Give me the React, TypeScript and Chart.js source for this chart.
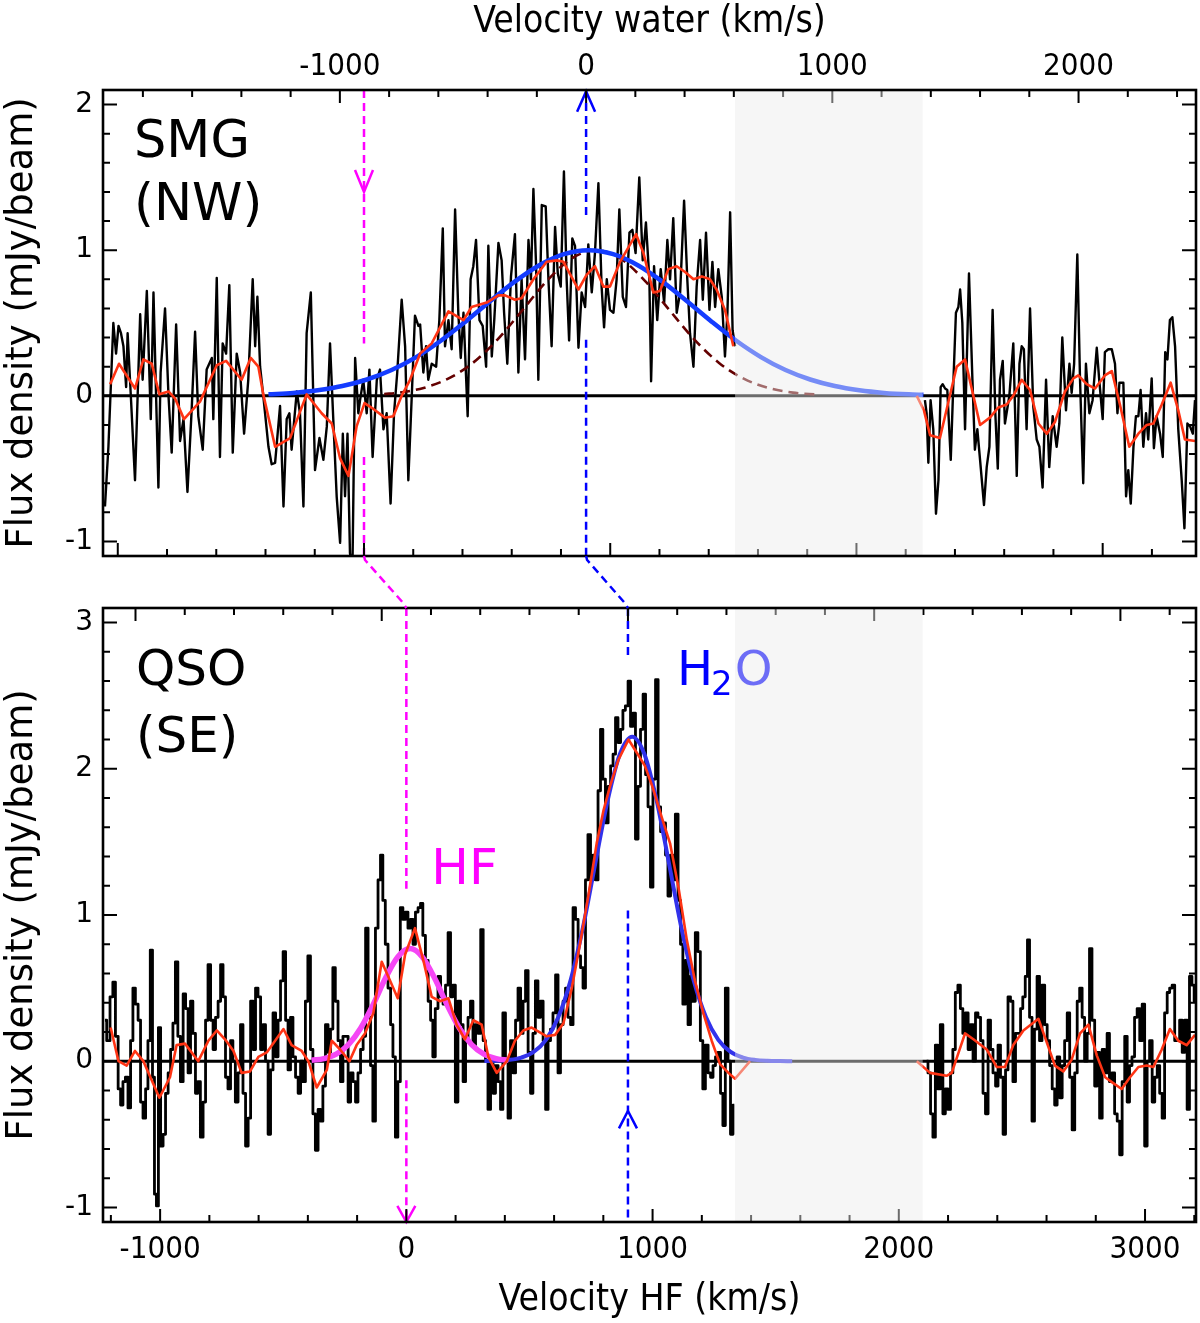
import { useEffect, useRef } from 'react'
import { Chart, registerables } from 'chart.js'

Chart.register(...registerables)

const CONDENSED = "'DejaVu Sans Condensed', 'DejaVu Sans', sans-serif"
const SANS = "'DejaVu Sans', sans-serif"

// shared velocity axis (HF velocity of the QSO, km/s)
const V_MIN = -1232
const V_MAX = 3207
// channels covered by the grey band
const BAND = [1335, 2097]

// rest positions of the lines on the shared axis
const SMG_HF = -172
const SMG_WATER = 730
const QSO_HF = 0
const QSO_WATER = 900

const HF_TICKS = [-1000, 0, 1000, 2000, 3000]
const WATER_TICKS = [-1000, 0, 1000, 2000]
const SMG_Y_TICKS = [-1, 0, 1, 2]
const QSO_Y_TICKS = [-1, 0, 1, 2, 3]

const RED = '#ff3414'
const MAGENTA = '#ff00ff'
const BLUE = '#0000ff'

// ---- SMG (NW) spectrum [velocity, flux] ----
const smgSpecLeft = [
  [-1224, -0.76], [-1210, -0.35], [-1190, 0.5], [-1179, 0.29], [-1169, 0.48], [-1159, 0.43], [-1149, 0.34],
  [-1138, 0.06], [-1132, 0.43], [-1119, 0.0], [-1102, -0.58], [-1081, 0.56], [-1071, 0.11], [-1054, 0.72],
  [-1038, -0.16], [-1027, 0.71], [-1007, -0.63], [-998, 0.16], [-980, 0.6], [-966, 0.0], [-953, -0.39],
  [-935, 0.49], [-919, -0.31], [-905, -0.16], [-889, -0.66], [-872, -0.1], [-858, 0.44], [-845, -0.14],
  [-827, -0.37], [-811, 0.18], [-790, 0.26], [-784, -0.16], [-770, 0.81], [-757, -0.42], [-746, 0.36],
  [-732, 0.29], [-719, 0.76], [-705, -0.39], [-689, 0.29], [-675, 0.16], [-659, -0.26], [-642, 0.11],
  [-624, 0.8], [-614, 0.34], [-605, 0.68], [-594, 0.2], [-581, 0.0], [-560, -0.35], [-547, -0.47],
  [-533, -0.46], [-513, -0.07], [-499, -0.76], [-486, -0.16], [-475, -0.12], [-466, -0.37], [-445, 0.03],
  [-432, -0.12], [-418, -0.76], [-405, 0.43], [-388, 0.71], [-371, -0.51], [-353, -0.29], [-337, -0.44],
  [-323, -0.21], [-310, 0.36], [-296, -0.19], [-283, -0.69], [-269, -1.01], [-258, -0.26], [-249, -0.69],
  [-239, -0.26], [-229, -1.08], [-219, -1.2], [-208, 0.26], [-195, -0.12], [-188, -0.03], [-175, 0.11],
  [-161, -0.12], [-150, 0.18], [-137, -0.42], [-120, 0.11], [-107, 0.18], [-93, -0.23], [-80, -0.12],
  [-64, -0.74], [-50, -0.12], [-37, 0.16], [-19, 0.66], [-5, 0.34], [8, -0.58], [22, 0.0], [35, 0.55],
  [49, 0.48], [56, 0.49], [69, 0.16], [80, 0.34], [89, 0.11], [103, 0.22], [121, 0.2], [134, 0.52],
  [148, 1.15], [157, 0.34], [171, 0.52], [184, 0.32], [198, 1.28], [211, 0.57], [221, 0.26], [232, 0.57],
  [249, -0.14], [261, 0.8], [272, 0.89], [283, 1.07], [297, 0.52], [310, 0.48], [324, 0.2], [333, 1.03],
  [347, 0.27], [357, 0.52], [374, 1.05], [387, 0.93], [397, 0.57], [410, 0.22], [425, 0.82], [441, 1.11],
  [455, 0.16], [468, 0.8], [482, 0.25], [496, 1.07], [506, 0.8], [516, 1.42], [527, 0.89], [536, 0.11],
  [550, 1.31], [566, 1.3], [577, 0.8], [590, 0.34], [604, 1.16], [615, 0.84], [627, 0.75], [640, 1.54],
  [651, 0.8], [661, 0.38], [674, 1.08], [685, 1.03], [699, 0.33], [712, 0.71], [726, 0.61], [739, 1.04],
  [753, 0.71], [766, 0.98], [780, 1.46], [793, 0.75], [803, 0.47], [814, 0.8], [827, 0.59], [841, 0.57],
  [854, 0.8], [865, 1.28], [879, 0.68], [892, 0.61], [906, 1.12], [918, 1.14], [931, 0.98], [946, 1.5],
  [960, 0.93], [973, 1.19], [987, 0.8], [994, 0.1], [1006, 0.89], [1019, 0.52], [1033, 0.87], [1047, 0.64],
  [1060, 1.07], [1071, 0.8], [1084, 1.22], [1098, 0.57], [1112, 0.71], [1128, 1.34], [1141, 0.8],
  [1152, 0.43], [1166, 0.2], [1179, 0.75], [1193, 1.07], [1204, 0.66], [1217, 1.12], [1231, 0.59],
  [1243, 0.92], [1254, 0.61], [1267, 0.87], [1281, 0.68], [1294, 0.27], [1304, 0.57], [1315, 1.26],
  [1325, 0.45], [1335, 0.34],
]
const smgSpecRight = [
  [2106, -0.03], [2113, -0.12], [2120, -0.46], [2129, -0.03], [2140, -0.23], [2151, -0.81], [2161, -0.58],
  [2170, 0.06], [2178, 0.08], [2188, 0.05], [2197, 0.04], [2211, -0.44], [2222, 0.11], [2232, 0.57],
  [2242, 0.61], [2249, 0.73], [2258, 0.5], [2269, -0.23], [2285, 0.84], [2299, 0.11], [2309, -0.37],
  [2319, -0.23], [2330, -0.44], [2346, -0.75], [2357, -0.49], [2368, -0.35], [2381, 0.59], [2392, -0.12],
  [2402, -0.5], [2411, 0.11], [2422, 0.24], [2431, -0.19], [2449, 0.0], [2465, 0.36], [2479, -0.55],
  [2490, 0.22], [2499, 0.34], [2508, 0.32], [2519, -0.23], [2533, 0.6], [2546, -0.07], [2560, -0.3],
  [2571, -0.35], [2584, -0.63], [2598, 0.11], [2611, -0.49], [2625, -0.14], [2641, -0.35], [2652, -0.19],
  [2664, 0.4], [2679, -0.1], [2693, 0.22], [2702, 0.02], [2712, 0.22], [2725, 0.97], [2736, 0.11],
  [2749, -0.6], [2760, 0.22], [2774, -0.12], [2787, -0.03], [2804, 0.33], [2814, 0.11], [2828, -0.16],
  [2837, 0.3], [2851, 0.32], [2865, 0.32], [2878, 0.22], [2888, -0.12], [2896, 0.09], [2912, 0.09],
  [2923, -0.69], [2932, -0.51], [2942, -0.74], [2953, -0.35], [2963, -0.14], [2973, -0.14], [2982, 0.04],
  [2993, -0.35], [3004, -0.12], [3013, -0.3], [3027, 0.12], [3036, -0.36], [3047, -0.14], [3061, -0.26],
  [3072, -0.42], [3082, 0.3], [3091, 0.25], [3101, 0.52], [3111, 0.54], [3122, 0.34], [3135, -0.23],
  [3149, -0.58], [3160, -0.91], [3172, -0.19], [3183, -0.21], [3194, -0.26], [3203, -0.03],
]
const smgSmoothLeft = [
  [-1203, 0.08], [-1167, 0.22], [-1102, 0.05], [-1068, 0.25], [-1034, 0.22], [-1003, 0.01], [-966, 0.03],
  [-939, -0.02], [-903, -0.16], [-838, -0.04], [-770, 0.21], [-732, 0.24], [-669, 0.11], [-632, 0.26],
  [-601, 0.2], [-581, 0.01], [-533, -0.35], [-472, -0.29], [-405, 0.01], [-344, -0.12], [-303, -0.19],
  [-269, -0.43], [-235, -0.55], [-202, -0.21], [-170, -0.05], [-134, -0.09], [-87, -0.15], [-53, -0.14],
  [-19, 0.0], [15, 0.11], [56, 0.29], [103, 0.36], [171, 0.58], [232, 0.52], [265, 0.61], [326, 0.64],
  [374, 0.69], [401, 0.69], [441, 0.66], [468, 0.67], [516, 0.8], [570, 0.92], [611, 0.93], [638, 0.92],
  [699, 0.73], [732, 0.83], [766, 0.89], [800, 0.75], [827, 0.75], [868, 0.92], [933, 1.11], [963, 0.98],
  [1003, 0.71], [1030, 0.72], [1064, 0.87], [1098, 0.89], [1132, 0.85], [1166, 0.8], [1200, 0.82],
  [1233, 0.8], [1260, 0.73], [1294, 0.59], [1328, 0.34],
]
const smgSmoothRight = [
  [2073, 0.0], [2102, -0.1], [2127, -0.27], [2167, -0.29], [2235, 0.2], [2269, 0.25], [2330, -0.2],
  [2370, -0.15], [2404, -0.08], [2438, -0.06], [2465, 0.0], [2499, 0.11], [2533, 0.04], [2567, -0.19],
  [2601, -0.26], [2634, -0.18], [2675, 0.03], [2709, 0.12], [2729, 0.14], [2763, 0.08], [2797, 0.05],
  [2837, 0.14], [2865, 0.17], [2898, -0.06], [2936, -0.35], [2973, -0.26], [3007, -0.2], [3034, -0.19],
  [3068, -0.06], [3104, 0.09], [3135, -0.1], [3162, -0.3], [3203, -0.31],
]
const smgWaterFit = [
  [-560, 0.01], [-460, 0.02], [-360, 0.038], [-260, 0.067], [-160, 0.112], [-60, 0.177],
  [40, 0.266], [140, 0.378], [240, 0.509], [340, 0.649], [440, 0.784], [540, 0.897], [640, 0.973],
  [740, 1.0], [840, 0.973], [940, 0.897], [1040, 0.784], [1140, 0.649], [1240, 0.509], [1340, 0.378],
  [1440, 0.266], [1540, 0.177], [1640, 0.112], [1740, 0.067], [1840, 0.038], [1940, 0.02], [2040, 0.01],
  [2100, 0.007],
]
const smgNarrowFit = [
  [-90, 0.012], [-30, 0.022], [70, 0.054], [170, 0.118], [270, 0.226], [370, 0.386], [470, 0.585],
  [570, 0.788], [670, 0.942], [770, 1.0], [870, 0.942], [970, 0.788], [1070, 0.585], [1170, 0.386],
  [1270, 0.226], [1370, 0.118], [1470, 0.054], [1570, 0.022], [1670, 0.008],
]

// ---- QSO (SE) spectrum [velocity, flux] ----
const qsoSpecLeft = [
  [-1224, 0.28], [-1210, 0.14], [-1197, 0.44], [-1187, 0.54], [-1176, 0.17], [-1165, -0.19], [-1156, -0.3],
  [-1146, -0.14], [-1136, -0.11], [-1125, -0.32], [-1115, 0.14], [-1106, 0.5], [-1095, 0.39], [-1084, 0.28],
  [-1075, -0.28], [-1064, -0.39], [-1054, -0.19], [-1045, 0.14], [-1035, 0.76], [-1027, -0.11],
  [-1019, -0.91], [-1011, -0.99], [-1003, 0.23], [-993, -0.58], [-983, -0.5], [-973, -0.22], [-962, -0.08],
  [-953, 0.08], [-943, 0.26], [-933, 0.68], [-923, 0.17], [-912, -0.14], [-901, 0.46], [-892, 0.36],
  [-881, -0.08], [-872, 0.41], [-862, 0.19], [-851, -0.22], [-842, -0.14], [-831, -0.52], [-820, -0.28],
  [-811, 0.28], [-800, 0.66], [-790, 0.28], [-780, 0.08], [-770, 0.3], [-759, 0.41], [-750, 0.66],
  [-739, 0.44], [-730, -0.11], [-719, -0.19], [-709, 0.14], [-700, 0.0], [-689, -0.28], [-678, -0.08],
  [-669, 0.25], [-658, -0.22], [-648, -0.58], [-637, -0.39], [-628, 0.41], [-617, 0.08], [-608, 0.5],
  [-597, 0.44], [-587, 0.08], [-577, 0.25], [-567, 0.0], [-556, -0.5], [-547, -0.06], [-536, 0.33],
  [-526, 0.03], [-516, 0.28], [-506, 0.55], [-495, 0.75], [-486, 0.28], [-475, -0.06], [-466, 0.3],
  [-455, 0.03], [-445, -0.11], [-434, -0.22], [-425, 0.0], [-415, -0.14], [-405, 0.41], [-395, 0.72],
  [-384, 0.08], [-375, -0.36], [-364, -0.61], [-353, -0.33], [-344, -0.41], [-334, -0.17], [-323, 0.25],
  [-313, 0.06], [-303, 0.22], [-294, 0.64], [-283, 0.41], [-272, 0.14], [-263, -0.14], [-252, 0.17],
  [-242, 0.17], [-231, -0.28], [-222, -0.08], [-211, -0.14], [-202, -0.28], [-191, -0.08], [-181, 0.08],
  [-170, 0.17], [-161, 0.91], [-150, 0.3], [-141, -0.03], [-131, -0.41], [-120, 0.91], [-110, 1.24],
  [-100, 1.41], [-91, 1.1], [-80, 0.8], [-69, 0.5], [-59, 0.25], [-50, 0.03], [-39, -0.52], [-30, -0.14],
  [-19, 1.05], [-9, 0.97], [1, 1.02], [12, 0.91], [22, 0.97], [32, 0.8], [42, 1.02], [53, 1.05],
  [62, 1.08], [72, 0.86], [83, 0.69], [94, 0.41], [103, 0.28], [112, 0.03], [123, 0.36], [134, 0.58],
  [144, 0.44], [154, 0.39], [164, 0.52], [175, 0.88], [184, 0.44], [194, 0.52], [204, -0.28], [215, 0.41],
  [225, 0.25], [236, -0.14], [245, 0.14], [256, 0.3], [265, 0.41], [276, 0.11], [286, 0.25], [297, 0.19],
  [307, 0.9], [317, 0.14], [326, 0.0], [337, -0.33], [347, 0.0], [357, -0.22], [367, -0.03], [378, -0.14],
  [387, -0.33], [397, 0.33], [408, 0.0], [418, -0.39], [428, 0.14], [439, -0.08], [448, 0.28], [459, 0.5],
  [469, 0.19], [479, 0.41], [489, 0.62], [500, 0.06], [509, -0.22], [519, 0.19], [529, 0.55], [540, 0.3],
  [550, 0.41], [561, 0.14], [570, -0.33], [581, 0.14], [590, 0.22], [601, 0.33], [611, 0.59], [621, -0.08],
  [631, 0.25], [642, 0.41], [651, 0.5], [662, 0.3], [672, 0.25], [682, 1.05], [692, 0.97], [703, 0.72],
  [712, 0.64], [723, 0.5], [732, 1.24], [743, 1.55], [753, 1.24], [764, 1.41], [773, 1.24], [784, 1.85],
  [793, 2.27], [803, 1.93], [814, 1.63], [825, 1.88], [834, 2.02], [845, 2.1], [854, 2.35], [865, 2.18],
  [875, 2.27], [884, 2.4], [895, 2.43], [906, 2.6], [915, 2.29], [925, 2.38], [936, 1.52], [946, 1.88],
  [956, 2.27], [967, 2.51], [976, 1.96], [987, 1.74], [996, 1.19], [1007, 1.93], [1017, 2.61], [1028, 1.74],
  [1037, 1.57], [1048, 1.63], [1057, 1.41], [1068, 1.13], [1078, 1.41], [1087, 1.24], [1098, 1.69],
  [1109, 1.1], [1118, 0.8], [1128, 0.39], [1139, 0.69], [1149, 0.25], [1159, 0.58], [1168, 0.41],
  [1179, 0.88], [1189, 0.75], [1199, 0.14], [1209, -0.19], [1220, 0.11], [1231, -0.08], [1240, -0.11],
  [1251, -0.03], [1260, 0.03], [1271, 0.06], [1281, -0.22], [1290, -0.44], [1301, 0.5], [1312, 0.0],
  [1321, -0.5], [1332, -0.3],
]
const qsoSpecRight = [
  [2113, 0.0], [2124, -0.08], [2134, -0.36], [2143, -0.52], [2154, 0.11], [2163, -0.19], [2174, 0.25],
  [2184, -0.36], [2194, -0.19], [2205, -0.33], [2215, -0.08], [2224, 0.08], [2235, 0.47], [2245, 0.52],
  [2255, 0.36], [2265, 0.19], [2276, 0.33], [2287, 0.08], [2296, 0.25], [2307, 0.0], [2316, 0.33],
  [2327, 0.3], [2337, 0.14], [2347, -0.22], [2357, -0.36], [2368, 0.28], [2377, 0.08], [2388, -0.08],
  [2398, -0.17], [2408, 0.11], [2418, -0.11], [2429, -0.5], [2438, -0.06], [2449, 0.44], [2458, 0.41],
  [2469, -0.14], [2479, 0.19], [2490, 0.19], [2499, 0.36], [2508, 0.44], [2519, 0.58], [2526, 0.83],
  [2536, 0.3], [2546, -0.41], [2556, 0.22], [2567, 0.58], [2576, 0.14], [2587, 0.52], [2598, 0.25],
  [2607, 0.14], [2618, -0.03], [2628, -0.19], [2638, -0.3], [2648, 0.03], [2659, -0.25], [2668, -0.03],
  [2679, 0.14], [2689, 0.33], [2699, -0.11], [2709, -0.47], [2720, -0.08], [2729, 0.41], [2740, 0.5],
  [2749, 0.3], [2760, 0.0], [2770, 0.19], [2779, 0.77], [2790, 0.28], [2801, -0.17], [2810, 0.06],
  [2821, -0.39], [2831, 0.08], [2841, -0.08], [2851, 0.19], [2860, -0.14], [2871, -0.08], [2882, -0.36],
  [2892, -0.41], [2902, -0.64], [2912, -0.14], [2923, 0.17], [2932, -0.28], [2942, -0.03], [2952, 0.03],
  [2963, 0.3], [2973, 0.36], [2984, 0.14], [2993, 0.39], [3004, -0.58], [3013, 0.0], [3024, 0.14],
  [3034, -0.28], [3045, -0.11], [3054, -0.03], [3065, -0.22], [3074, -0.39], [3085, 0.33], [3095, 0.47],
  [3105, 0.5], [3115, 0.52], [3126, 0.14], [3135, 0.14], [3146, 0.28], [3156, 0.06], [3166, 0.28],
  [3176, -0.33], [3185, 0.58], [3196, 0.52], [3203, 0.41],
]
const qsoSmoothLeft = [
  [-1201, 0.23], [-1169, 0.0], [-1136, -0.03], [-1102, 0.07], [-1068, 0.0], [-1003, -0.25], [-960, -0.11],
  [-933, 0.11], [-899, 0.12], [-845, 0.0], [-804, 0.14], [-770, 0.21], [-732, 0.14], [-702, 0.07],
  [-669, -0.08], [-635, -0.07], [-601, 0.03], [-567, 0.06], [-533, 0.14], [-499, 0.22], [-466, 0.11],
  [-425, 0.07], [-398, 0.0], [-364, -0.18], [-323, -0.06], [-303, 0.14], [-269, 0.08], [-231, 0.0],
  [-202, 0.11], [-168, 0.19], [-134, 0.33], [-100, 0.68], [-66, 0.55], [-35, 0.43], [-5, 0.73], [35, 0.91],
  [69, 0.69], [103, 0.44], [137, 0.41], [171, 0.43], [204, 0.25], [238, 0.15], [272, 0.28], [306, 0.25],
  [333, 0.03], [367, -0.08], [408, 0.0], [441, 0.14], [475, 0.21], [509, 0.23], [570, 0.17], [604, 0.18],
  [638, 0.26], [672, 0.5], [705, 0.8], [739, 1.13], [773, 1.49], [800, 1.71], [827, 1.88], [861, 2.06],
  [902, 2.2], [936, 2.11], [969, 2.02], [1003, 1.86], [1037, 1.67], [1071, 1.49], [1105, 1.19],
  [1139, 0.83], [1172, 0.55], [1206, 0.33], [1240, 0.14], [1274, -0.02], [1308, -0.08], [1335, -0.12],
  [1396, 0.0],
]
const qsoSmoothRight = [
  [2073, 0.0], [2127, -0.08], [2194, -0.1], [2215, -0.08], [2269, 0.19], [2303, 0.15], [2357, 0.08],
  [2398, -0.04], [2431, -0.04], [2465, 0.11], [2506, 0.21], [2567, 0.29], [2607, 0.1], [2634, -0.03],
  [2668, -0.07], [2702, 0.01], [2736, 0.19], [2770, 0.25], [2804, 0.04], [2838, -0.11], [2871, -0.15],
  [2905, -0.19], [2939, -0.11], [2973, -0.04], [3007, -0.03], [3034, -0.04], [3068, 0.08], [3101, 0.22],
  [3135, 0.14], [3169, 0.11], [3203, 0.18],
]
const qsoHfFit = [
  [-385, 0.006], [-335, 0.018], [-285, 0.049], [-235, 0.114], [-185, 0.227], [-135, 0.387], [-85, 0.567],
  [-35, 0.713], [15, 0.77], [65, 0.713], [115, 0.567], [165, 0.387], [215, 0.227], [265, 0.114],
  [315, 0.049], [365, 0.018], [415, 0.006],
]
const qsoWaterFit = [
  [317, 0.001], [367, 0.003], [417, 0.009], [467, 0.025], [517, 0.063], [567, 0.146], [617, 0.3],
  [667, 0.553], [717, 0.913], [767, 1.35], [817, 1.78], [867, 2.1], [917, 2.22], [967, 2.1], [1017, 1.78],
  [1067, 1.35], [1117, 0.913], [1167, 0.553], [1217, 0.3], [1267, 0.146], [1317, 0.063], [1367, 0.025],
  [1417, 0.009], [1467, 0.003], [1517, 0.001], [1567, 0.0],
]

const pts = (a: number[][]) => a.map(([x, y]) => ({ x, y }))
const join = (a: number[][], b: number[][]) => [...pts(a), { x: (BAND[0] + BAND[1]) / 2, y: null }, ...pts(b)]

const line = (data: any[], color: string, width: number, order: number) => ({
  data,
  borderColor: color,
  borderWidth: width,
  pointRadius: 0,
  borderJoinStyle: 'round',
  fill: false,
  tension: 0,
  order,
})

function drawTicks(chart: any, topOff: number, botOff: number) {
  const { ctx, chartArea: a, scales } = chart
  const x = scales.x
  const y = scales.y
  ctx.save()
  ctx.strokeStyle = '#000'
  ctx.lineWidth = 2
  ctx.beginPath()
  const edges: [number, number, number][] = [[topOff, a.top, 1], [botOff, a.bottom, -1]]
  for (const [off, edge, dir] of edges) {
    for (let t = Math.ceil((V_MIN - off) / 200) * 200; t + off < V_MAX; t += 200) {
      const px = x.getPixelForValue(t + off)
      const len = t % 1000 === 0 ? 13 : 7
      ctx.moveTo(px, edge)
      ctx.lineTo(px, edge + dir * len)
    }
  }
  for (let k = Math.ceil(y.min * 5); k <= Math.floor(y.max * 5); k++) {
    const py = y.getPixelForValue(k / 5)
    const len = k % 5 === 0 ? 14 : 7
    ctx.moveTo(a.left, py)
    ctx.lineTo(a.left + len, py)
    ctx.moveTo(a.right, py)
    ctx.lineTo(a.right - len, py)
  }
  ctx.stroke()
  ctx.restore()
}

function drawBandAndFrame(chart: any) {
  const { ctx, chartArea: a, scales } = chart
  const x0 = scales.x.getPixelForValue(BAND[0])
  const x1 = scales.x.getPixelForValue(BAND[1])
  ctx.save()
  ctx.fillStyle = 'rgba(235,235,235,0.46)'
  ctx.fillRect(x0, a.top, x1 - x0, a.bottom - a.top)
  ctx.strokeStyle = '#000'
  ctx.lineWidth = 2.6
  ctx.strokeRect(a.left, a.top, a.right - a.left, a.bottom - a.top)
  ctx.restore()
}

function marker(chart: any, v: number, spans: number[][], color: string, tip: number, base: number) {
  const { ctx, scales } = chart
  const y = scales.y
  const px = scales.x.getPixelForValue(v)
  ctx.save()
  ctx.strokeStyle = color
  ctx.lineWidth = 2.5
  ctx.setLineDash([8, 5])
  ctx.beginPath()
  for (const [f0, f1] of spans) {
    ctx.moveTo(px, y.getPixelForValue(f0))
    ctx.lineTo(px, y.getPixelForValue(f1))
  }
  ctx.stroke()
  ctx.setLineDash([])
  ctx.beginPath()
  ctx.moveTo(px - 9, y.getPixelForValue(base))
  ctx.lineTo(px, y.getPixelForValue(tip))
  ctx.lineTo(px + 9, y.getPixelForValue(base))
  ctx.stroke()
  ctx.restore()
}

function zeroLine(chart: any) {
  const { ctx, chartArea: a, scales } = chart
  const py = scales.y.getPixelForValue(0)
  ctx.save()
  ctx.strokeStyle = '#000'
  ctx.lineWidth = 3
  ctx.beginPath()
  ctx.moveTo(a.left, py)
  ctx.lineTo(a.right, py)
  ctx.stroke()
  ctx.restore()
}

const smgPlugin = {
  id: 'smgPanel',
  beforeDatasetsDraw: zeroLine,
  afterDatasetsDraw(chart: any) {
    const { ctx, chartArea: a } = chart
    ctx.save()
    ctx.font = `51px ${SANS}`
    ctx.fillStyle = '#000'
    ctx.textBaseline = 'alphabetic'
    ctx.fillText('SMG', a.left + 31, a.top + 67)
    ctx.fillText('(NW)', a.left + 31, a.top + 130)
    ctx.restore()
    marker(chart, SMG_HF, [[2.1, 0.36], [-0.42, -1.1]], MAGENTA, 1.4, 1.55)
    marker(chart, SMG_WATER, [[2.1, 1.22], [0.385, -1.1]], BLUE, 2.09, 1.95)
    drawTicks(chart, SMG_WATER, SMG_HF)
    drawBandAndFrame(chart)
  },
}

const qsoPlugin = {
  id: 'qsoPanel',
  beforeDatasetsDraw: zeroLine,
  afterDatasetsDraw(chart: any) {
    const { ctx, chartArea: a, scales } = chart
    const x = scales.x
    const y = scales.y
    ctx.save()
    ctx.textBaseline = 'alphabetic'
    ctx.font = `50px ${SANS}`
    ctx.fillStyle = '#000'
    ctx.fillText('QSO', a.left + 33, a.top + 77)
    ctx.fillText('(SE)', a.left + 33, a.top + 144)
    ctx.fillStyle = MAGENTA
    ctx.fillText('HF', x.getPixelForValue(QSO_HF) + 25, y.getPixelForValue(1.21))
    // H2O label
    ctx.fillStyle = BLUE
    ctx.font = `48px ${SANS}`
    let hx = x.getPixelForValue(QSO_WATER) + 49
    const hy = a.top + 77
    ctx.fillText('H', hx, hy)
    hx += ctx.measureText('H').width - 2
    ctx.font = `34px ${SANS}`
    ctx.fillText('2', hx, hy + 10)
    hx += ctx.measureText('2').width + 2
    ctx.font = `48px ${SANS}`
    ctx.fillText('O', hx, hy)
    ctx.restore()
    marker(chart, QSO_HF, [[3.1, 1.18], [-0.13, -1.1]], MAGENTA, -1.1, -0.99)
    marker(chart, QSO_WATER, [[3.1, 2.75], [1.03, -1.1]], BLUE, -0.34, -0.46)
    drawTicks(chart, QSO_WATER, QSO_HF)
    drawBandAndFrame(chart)
    // dashed links from the SMG panel down to the QSO panel
    ctx.save()
    ctx.lineWidth = 2.5
    ctx.setLineDash([8, 5])
    const links: [number, number, string][] = [[SMG_HF, QSO_HF, MAGENTA], [SMG_WATER, QSO_WATER, BLUE]]
    for (const [from, to, color] of links) {
      const x0 = x.getPixelForValue(from)
      const x1 = x.getPixelForValue(to)
      ctx.strokeStyle = color
      ctx.beginPath()
      ctx.moveTo(x0, a.top - 52)
      ctx.lineTo(x0 + 1, a.top - 48)
      ctx.lineTo(x1 - 4, a.top - 6)
      ctx.lineTo(x1, a.top)
      ctx.stroke()
    }
    ctx.restore()
  },
}

const xTickFont = { family: CONDENSED, size: 31 }
const yTickFont = { family: SANS, size: 28 }
const titleFont = { family: CONDENSED, size: 37 }
const yTitleFont = { family: SANS, size: 37 }

const yScale = (min: number, max: number, labels: number[]) => ({
  type: 'linear',
  min,
  max,
  grid: { display: false, drawTicks: false },
  border: { display: false },
  ticks: { font: yTickFont, color: '#000', padding: 10, callback: (v: number) => String(v) },
  afterBuildTicks: (s: any) => {
    s.ticks = labels.map((value) => ({ value }))
  },
  title: { display: true, text: 'Flux density (mJy/beam)', font: yTitleFont, color: '#000', padding: 0 },
  afterFit: (s: any) => {
    s.width = 103
  },
})

const baseOptions = {
  animation: false,
  responsive: false,
  devicePixelRatio: 1,
  events: [],
  plugins: { legend: { display: false }, tooltip: { enabled: false } },
}

export default function App() {
  const topRef = useRef<HTMLCanvasElement>(null)
  const botRef = useRef<HTMLCanvasElement>(null)

  useEffect(() => {
    if (!topRef.current || !botRef.current) return

    const top = new Chart(topRef.current, {
      type: 'line',
      data: {
        datasets: [
          line(join(smgSmoothLeft, smgSmoothRight), RED, 2.6, 0),
          { ...line(pts(smgWaterFit), 'rgb(20,60,255)', 4.5, 1), cubicInterpolationMode: 'monotone' },
          { ...line(pts(smgNarrowFit), '#640000', 2.6, 2), borderDash: [10, 6], cubicInterpolationMode: 'monotone' },
          line(join(smgSpecLeft, smgSpecRight), '#000', 2.4, 3),
        ],
      },
      options: {
        ...baseOptions,
        layout: { padding: { left: 0, right: 4, top: 0, bottom: 28 } },
        scales: {
          x: { type: 'linear', min: V_MIN, max: V_MAX, display: false },
          xTop: {
            type: 'linear',
            position: 'top',
            min: V_MIN - SMG_WATER,
            max: V_MAX - SMG_WATER,
            grid: { display: false, drawTicks: false },
            border: { display: false },
            ticks: { font: xTickFont, color: '#000', padding: 4, maxRotation: 0, callback: (v: number) => String(v) },
            afterBuildTicks: (s: any) => {
              s.ticks = WATER_TICKS.map((value) => ({ value }))
            },
            title: { display: true, text: 'Velocity water (km/s)', font: titleFont, color: '#000', padding: 0 },
            afterFit: (s: any) => {
              s.height = 90
            },
          },
          y: yScale(-1.1, 2.1, SMG_Y_TICKS),
        },
      } as any,
      plugins: [smgPlugin],
    } as any)

    const bottom = new Chart(botRef.current, {
      type: 'line',
      data: {
        datasets: [
          line(join(qsoSmoothLeft, qsoSmoothRight), RED, 2.6, 0),
          { ...line(pts(qsoHfFit), 'rgb(245,70,245)', 5.5, 1), cubicInterpolationMode: 'monotone' },
          { ...line(pts(qsoWaterFit), 'rgb(50,50,235)', 4, 1), cubicInterpolationMode: 'monotone' },
          { ...line(join(qsoSpecLeft, qsoSpecRight), '#000', 2.8, 3), stepped: 'middle' },
        ],
      },
      options: {
        ...baseOptions,
        layout: { padding: { left: 0, right: 4, top: 68, bottom: 0 } },
        scales: {
          x: {
            type: 'linear',
            position: 'bottom',
            min: V_MIN,
            max: V_MAX,
            grid: { display: false, drawTicks: false },
            border: { display: false },
            ticks: { font: xTickFont, color: '#000', padding: 9, maxRotation: 0, callback: (v: number) => String(v) },
            afterBuildTicks: (s: any) => {
              s.ticks = HF_TICKS.map((value) => ({ value }))
            },
            title: { display: true, text: 'Velocity HF (km/s)', font: titleFont, color: '#000', padding: 0 },
            afterFit: (s: any) => {
              s.height = 101
            },
          },
          y: yScale(-1.1, 3.1, QSO_Y_TICKS),
        },
      } as any,
      plugins: [qsoPlugin],
    } as any)

    return () => {
      top.destroy()
      bottom.destroy()
    }
  }, [])

  return (
    <div style={{ position: 'absolute', left: 0, top: 0, width: 1200, height: 1323, background: '#fff' }}>
      <canvas ref={topRef} width={1200} height={584} style={{ position: 'absolute', left: 0, top: 0 }} />
      <canvas ref={botRef} width={1200} height={783} style={{ position: 'absolute', left: 0, top: 540 }} />
    </div>
  )
}
